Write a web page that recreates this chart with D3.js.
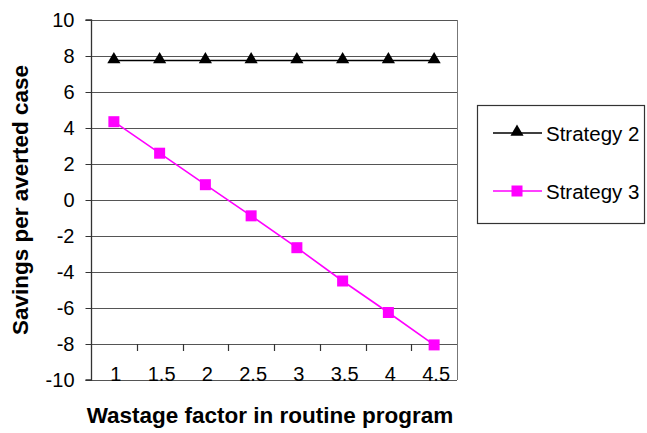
<!DOCTYPE html>
<html><head><meta charset="utf-8">
<script src="https://cdn.jsdelivr.net/npm/d3@7"></script>
<style>body{margin:0;background:#fff}svg{display:block}text{font-family:"Liberation Sans",Arial,sans-serif}</style>
</head><body><svg id="c" width="647" height="433"></svg>
<script>
const categories = ["1","1.5","2","2.5","3","3.5","4","4.5"];
const strategy2 = [7.75,7.75,7.75,7.75,7.75,7.75,7.75,7.75];
const strategy3 = [4.35,2.6,0.85,-0.88,-2.65,-4.5,-6.25,-8.05];
const yTicks = [10,8,6,4,2,0,-2,-4,-6,-8,-10];
const seriesNames = ["Strategy 2","Strategy 3"];

const svg = d3.select("#c");
const L=91,R=457,T=20,B=380;
const x = d3.scaleBand().domain(categories).range([L,R]).padding(0);
const cx = c => x(c)+x.bandwidth()/2;
const y = d3.scaleLinear().domain([-10,10]).range([B,T]);

// gridlines
svg.append("g").selectAll("line").data(yTicks).join("line")
  .attr("x1",L).attr("x2",R).attr("y1",d=>Math.round(y(d))+0.5).attr("y2",d=>Math.round(y(d))+0.5)
  .attr("stroke","#555").attr("stroke-width",1.2);
// right border
svg.append("line").attr("x1",R+0.5).attr("x2",R+0.5).attr("y1",T).attr("y2",B).attr("stroke","#777");

// y axis
const yAxis = d3.axisLeft(y).tickValues(yTicks).tickSize(6).tickPadding(11).tickFormat(d=>String(d));
const gy = svg.append("g").attr("transform",`translate(${L+0.5},0)`).call(yAxis);
gy.select(".domain").attr("stroke","#333").attr("stroke-width",1.3).attr("d",`M-6,${y(10)}H0V${y(-10)}H-6`);
gy.selectAll(".tick line").attr("stroke","#333");
gy.selectAll("text").attr("font-size",20).attr("fill","#000").attr("font-family","Liberation Sans, Arial, sans-serif");

// x ticks at -8 line (between categories)
const xb = categories.slice(1).map(c=>x(c));
svg.append("g").selectAll("line").data(xb).join("line")
  .attr("x1",d=>Math.round(d)+0.5).attr("x2",d=>Math.round(d)+0.5)
  .attr("y1",y(-8)).attr("y2",y(-8)+7).attr("stroke","#333").attr("stroke-width",1.2);
// x labels
svg.append("g").selectAll("text").data(categories).join("text")
  .attr("x",d=>cx(d)+2).attr("y",381).attr("text-anchor","middle")
  .attr("font-size",20).text(d=>d);

// series lines
const line = d3.line().x((d,i)=>cx(categories[i])).y(d=>y(d));
svg.append("path").datum(strategy2).attr("d",line).attr("fill","none").attr("stroke","#000").attr("stroke-width",1.6);
svg.append("path").datum(strategy3).attr("d",line).attr("fill","none").attr("stroke","#FF00FF").attr("stroke-width",1.6);
const tri = d3.symbol().type(d3.symbolTriangle).size(75);
svg.append("g").selectAll("path").data(strategy2).join("path")
  .attr("d",tri).attr("transform",(d,i)=>`translate(${cx(categories[i])},${y(d)-1})`).attr("fill","#000");
svg.append("g").selectAll("rect").data(strategy3).join("rect")
  .attr("x",(d,i)=>cx(categories[i])-5.5).attr("y",d=>y(d)-5.5).attr("width",11).attr("height",11).attr("fill","#FF00FF");

// axis titles
svg.append("text").attr("x",270).attr("y",423).attr("text-anchor","middle")
  .attr("font-size",22.5).attr("font-weight","bold").text("Wastage factor in routine program");
svg.append("text").attr("transform",`translate(28,200) rotate(-90)`).attr("text-anchor","middle")
  .attr("font-size",22.5).attr("font-weight","bold").text("Savings per averted case");

// legend
svg.append("rect").attr("x",477.5).attr("y",105.5).attr("width",167).attr("height",118)
  .attr("fill","#fff").attr("stroke","#333").attr("stroke-width",1.2);
const lg = svg.append("g").selectAll("g").data(seriesNames).join("g")
  .attr("transform",(d,i)=>`translate(0,${i===0?133:191})`);
lg.append("line").attr("x1",493).attr("x2",542).attr("stroke",(d,i)=>i===0?"#000":"#FF00FF").attr("stroke-width",1.6);
lg.filter((d,i)=>i===0).append("path").attr("d",tri).attr("transform","translate(517,-1)").attr("fill","#000");
lg.filter((d,i)=>i===1).append("rect").attr("x",511.5).attr("y",-5.5).attr("width",11).attr("height",11).attr("fill","#FF00FF");
lg.append("text").attr("x",546).attr("y",8).attr("font-size",20.5).text(d=>d);
</script></body></html>
